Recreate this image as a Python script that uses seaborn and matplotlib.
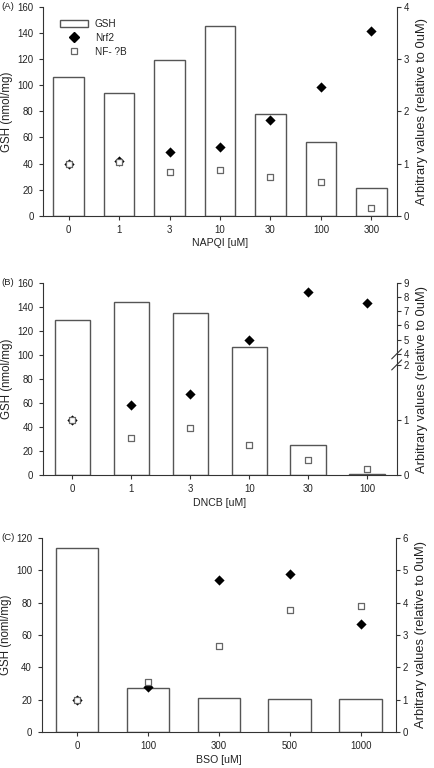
import numpy as np
import matplotlib
matplotlib.use('Agg')
import matplotlib.pyplot as plt
import seaborn as sns
import pandas as pd
from matplotlib.patches import Patch
from matplotlib.lines import Line2D

# values
napqi_dose = ['0', '1', '3', '10', '30', '100', '300']
napqi_gsh = [106, 94, 119.5, 145, 78, 56.5, 21]
napqi_nrf2 = [1.0, 1.06, 1.23, 1.31, 1.83, 2.47, 3.54]
napqi_nfkb = [1.0, 1.03, 0.84, 0.87, 0.74, 0.65, 0.15]

dncb_dose = ['0', '1', '3', '10', '30', '100']
dncb_gsh = [129, 144, 135, 107, 25, 0.8]
dncb_nrf2 = [1.0, 1.28, 1.48, 4.96, 8.37, 7.6]
dncb_nfkb = [1.0, 0.68, 0.85, 0.55, 0.28, 0.12]

bso_dose = ['0', '100', '300', '500', '1000']
bso_gsh = [113.5, 27.3, 21.4, 20.7, 20.7]
bso_nrf2 = [1.0, 1.41, 4.7, 4.89, 3.34]
bso_nfkb = [1.0, 1.54, 2.67, 3.76, 3.9]

sns.set_style('ticks')
plt.rcParams['font.family'] = ['Liberation Sans', 'DejaVu Sans']
plt.rcParams['font.size'] = 7

axis_col = '#333333'
text_col = '#222222'
bar_edge = '#555555'

fig = plt.figure(figsize=(4.34, 7.68), dpi=100)

# broken right axis for panel B: 0-2 normal, 2-4 squeezed, 4-9 compressed
brk_in = [0, 2, 4, 9]
brk_out = [0, 2, 2.2, 3.49]


def fwd(v):
    return np.interp(v, brk_in, brk_out)


def inv(v):
    return np.interp(v, brk_out, brk_in)


def panel(rect, dose, gsh, nrf2, nfkb, xlabel, ylabel, ymax, rmax, tag):
    ax = fig.add_axes(rect)
    df = pd.DataFrame({'dose': dose, 'gsh': gsh, 'nrf2': nrf2, 'nfkb': nfkb})
    sns.barplot(data=df, x='dose', y='gsh', order=dose, color='white',
                edgecolor=bar_edge, linewidth=1, width=0.6, saturation=1, ax=ax)
    ax2 = ax.twinx()
    sns.stripplot(data=df, x='dose', y='nrf2', order=dose, jitter=False,
                  marker='D', color='black', size=5.2, ax=ax2, zorder=3)
    sns.stripplot(data=df, x='dose', y='nfkb', order=dose, jitter=False,
                  marker='s', color='white', edgecolor='#666666', linewidth=0.9,
                  size=4, ax=ax2, zorder=4)
    ax.set_xlim(-0.5, len(dose) - 0.5)
    ax.set_ylim(0, ymax)
    ax.set_yticks(np.arange(0, ymax + 1, 20))
    ax.set_xlabel(xlabel, color=text_col, fontsize=7.6, labelpad=2.5)
    ax.set_ylabel(ylabel, color=text_col, fontsize=8.3, labelpad=3)
    ax2.set_ylabel('Arbitrary values (relative to 0uM)', color=text_col,
                   fontsize=9.3, labelpad=5)
    for a in (ax, ax2):
        a.spines['top'].set_visible(False)
        for s in a.spines.values():
            s.set_color(axis_col)
            s.set_linewidth(0.8)
        a.tick_params(colors=axis_col, labelcolor=text_col, length=3,
                      width=0.8, labelsize=6.9)
    ax.tick_params(axis='y', pad=4)
    ax2.tick_params(axis='y', pad=1.8)
    ax.spines['right'].set_visible(False)
    ax2.spines['left'].set_visible(False)
    ax2.spines['bottom'].set_visible(False)
    if rmax is None:
        ax2.set_yscale('function', functions=(fwd, inv))
        ax2.set_ylim(0, 9)
        ax2.set_yticks([0, 1, 2, 4, 5, 6, 7, 8, 9])
        ax2.yaxis.set_minor_locator(matplotlib.ticker.NullLocator())
        top = fwd(9)
        dx, dy = 5 / 354, 5 / 193
        for v in (2, 4):
            yf = fwd(v) / top
            ax2.plot([1 - dx, 1 + dx], [yf - dy, yf + dy], color=axis_col,
                     lw=0.8, transform=ax2.transAxes, clip_on=False)
    else:
        ax2.set_ylim(0, rmax)
        ax2.set_yticks(np.arange(0, rmax + 1, 1))
    ax.set_xlim(-0.5, len(dose) - 0.5)
    fig.text(0.004, rect[1] + rect[3], tag, va='center', ha='left',
             color=text_col, fontsize=6.8)
    return ax, ax2


axA, _ = panel([0.0998, 0.7188, 0.8142, 0.2725], napqi_dose, napqi_gsh,
               napqi_nrf2, napqi_nfkb, 'NAPQI [uM]', 'GSH (nmol/mg)', 160, 4, '(A)')
panel([0.0985, 0.3811, 0.8155, 0.2508], dncb_dose, dncb_gsh, dncb_nrf2,
      dncb_nfkb, 'DNCB [uM]', 'GSH (nmol/mg)', 160, None, '(B)')
panel([0.096, 0.0465, 0.8165, 0.2534], bso_dose, bso_gsh, bso_nrf2, bso_nfkb,
      'BSO [uM]', 'GSH (noml/mg)', 120, 6, '(C)')

handles = [
    Patch(facecolor='white', edgecolor=bar_edge, linewidth=1),
    Line2D([], [], marker='D', color='black', linestyle='none', markersize=5.2),
    Line2D([], [], marker='s', markerfacecolor='white', markeredgecolor='#666666',
           markeredgewidth=0.9, linestyle='none', markersize=4),
]
axA.legend(handles, ['GSH', 'Nrf2', 'NF- ?B'], loc='upper left',
           bbox_to_anchor=(0.033, 0.965), frameon=False, borderpad=0,
           handlelength=2.8, handletextpad=0.7, labelspacing=0.38,
           fontsize=7.2, labelcolor=text_col)

fig.savefig('out.png', dpi=100)
